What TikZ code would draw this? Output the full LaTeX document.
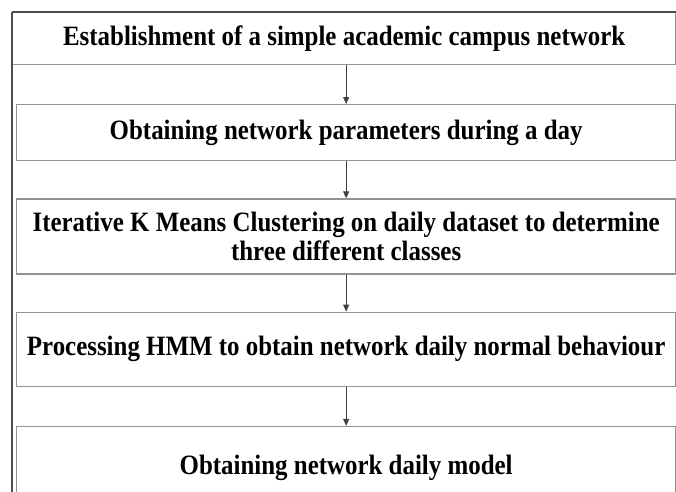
\documentclass[tikz,border=0pt]{standalone}
\usepackage{fontspec}
\setmainfont{Liberation Serif}[FakeStretch=0.89]
\usetikzlibrary{positioning,arrows.meta}

\tikzset{
  stepbox/.style={draw=gray!85, line width=1.3pt, minimum width=659pt, align=center,
    font=\fontsize{28}{29}\selectfont\bfseries, inner sep=0pt},
  flow/.style={draw=black!75, line width=0.9pt, -{Triangle[length=7pt,width=6pt]}},
  frame/.style={draw=black!70, line width=1.8pt}
}

\begin{document}
\begin{tikzpicture}[x=1pt,y=1pt,node distance=37pt]
\useasboundingbox (0,0) rectangle (676,-491);
\clip (0,0) rectangle (676,-491);
% outer frame, its top part holds the first step
\node[stepbox, minimum width=663pt, minimum height=52pt, anchor=north west] (setup) at (12,-12)
  {Establishment of a simple academic campus network};
\draw[frame] (setup.north west) -- (setup.north east);
\draw[frame] (setup.north west) -- ++(0,-520);
\draw[frame, draw=gray!85, line width=1.3pt] (setup.north east) -- ++(0,-520);

\node[stepbox, minimum height=56pt, anchor=north west] (params) at (16,-104)
  {Obtaining network parameters during a day};
\node[stepbox, minimum height=75pt, below=of params] (kmeans)
  {Iterative K Means Clustering on daily dataset to determine\\three different classes};
\node[stepbox, minimum height=74pt, below=of kmeans] (hmm)
  {Processing HMM to obtain network daily normal behaviour};
\node[stepbox, minimum height=82pt, below=39pt of hmm] (model)
  {Obtaining network daily model};

\draw[flow] (setup.south -| params.north) -- (params.north);
\draw[flow] (params) -- (kmeans);
\draw[flow] (kmeans) -- (hmm);
\draw[flow] (hmm) -- (model);
\end{tikzpicture}
\end{document}
